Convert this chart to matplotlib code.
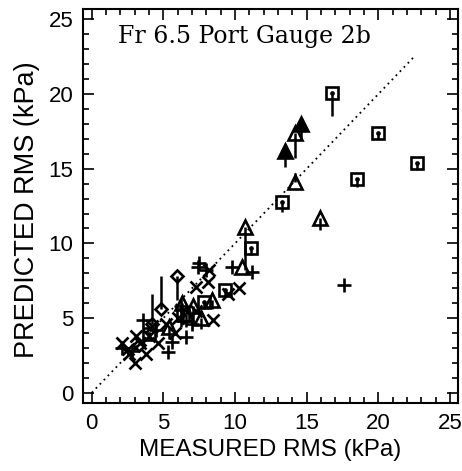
import matplotlib
matplotlib.use("Agg")
import matplotlib.pyplot as plt
import numpy as np
from matplotlib.ticker import MultipleLocator

# measured, predicted, end of the vertical bar for each point
sq_x = [16.8, 20.0, 22.7, 18.5, 13.3, 11.1, 9.3, 7.8, 6.4, 4.0]
sq_y = [20.1, 17.4, 15.4, 14.3, 12.8, 9.7, 6.9, 6.1, 5.2, 3.9]
sq_e = [18.5, 17.0, 14.9, 13.8, 12.1, 9.2, 6.5, 5.6, 4.6, 3.6]

tri_x = [14.2, 14.2, 15.9, 10.7, 10.5, 8.4, 7.1, 6.6, 7.6, 5.4, 6.3]
tri_y = [17.4, 14.1, 11.7, 11.1, 8.4, 6.2, 5.8, 5.3, 5.0, 4.4, 6.0]
tri_e = [15.7, 14.7, 10.9, 8.2, 8.4, 5.6, 4.6, 4.4, 4.3, 3.6, 4.8]

ftri_x = [13.5, 14.6]
ftri_y = [16.2, 18.0]
ftri_e = [15.1, 16.9]

plus_x = [17.6, 11.2, 9.8, 7.5, 7.4, 8.0, 6.6, 5.3, 3.6, 2.1, 6.2, 7.0, 4.5, 5.6, 2.8]
plus_y = [7.2, 8.1, 8.4, 8.7, 8.4, 8.2, 3.7, 2.7, 4.9, 3.0, 5.8, 4.6, 4.2, 3.4, 2.8]
plus_e = [7.2, 8.1, 8.4, 8.7, 8.4, 8.2, 3.7, 2.7, 4.9, 3.0, 4.4, 4.6, 4.2, 3.4, 2.8]

x_x = [10.3, 8.2, 7.3, 8.1, 8.45, 3.0, 2.1, 2.6, 3.4, 4.0, 4.6, 5.2, 2.5, 3.8, 5.8, 6.0, 4.2, 7.3, 3.1, 9.5]
x_y = [7.0, 8.25, 7.1, 7.4, 4.9, 2.0, 3.35, 2.6, 3.3, 3.8, 3.3, 4.6, 2.9, 2.6, 4.0, 5.0, 4.5, 5.5, 3.8, 6.6]

dia_x = [5.96, 4.8, 4.2, 3.3]
dia_y = [7.84, 5.6, 4.6, 3.2]
dia_e = [6.2, 7.8, 6.6, 3.2]

plt.rcParams['font.family'] = ['Liberation Sans', 'DejaVu Sans']

fig = plt.figure(figsize=(4.62, 4.71), dpi=100)
ax = fig.add_axes([0.18, 0.144, 0.811, 0.837])

ax.plot([0, 22.5], [0, 22.5], linestyle=(0, (1, 2.2)), color='black', lw=1.3)

def stems(xs, ys, es):
    for x, y, e in zip(xs, ys, es):
        if abs(y - e) > 0.01:
            ax.plot([x, x], [y, e], color='black', lw=1.8, solid_capstyle='butt')

stems(sq_x, sq_y, sq_e)
stems(tri_x, tri_y, tri_e)
stems(ftri_x, ftri_y, ftri_e)
stems(plus_x, plus_y, plus_e)
stems(dia_x, dia_y, dia_e)

kw = dict(linestyle='none', color='black', markeredgewidth=1.9)
ax.plot(sq_x, sq_y, marker='s', markersize=8.5, markerfacecolor='none', **kw)
ax.plot(sq_x, sq_y, marker='.', markersize=3, **kw)
ax.plot(tri_x, tri_y, marker='^', markersize=9.5, markerfacecolor='none', **kw)
ax.plot(ftri_x, ftri_y, marker='^', markersize=9.5, markerfacecolor='black', **kw)
ax.plot(plus_x, plus_y, marker='+', markersize=10, **kw)
ax.plot(x_x, x_y, marker='x', markersize=8, **kw)
ax.plot(dia_x, dia_y, marker='D', markersize=6.5, markerfacecolor='none', **kw)

ax.set_xlim(-0.6, 25.55)
ax.set_ylim(-0.7, 25.7)
ax.xaxis.set_major_locator(MultipleLocator(5))
ax.yaxis.set_major_locator(MultipleLocator(5))
ax.xaxis.set_minor_locator(MultipleLocator(1))
ax.yaxis.set_minor_locator(MultipleLocator(1))
ax.tick_params(which='both', direction='in', top=True, right=True, width=1.2,
               labelsize=16, pad=7)
ax.tick_params(which='major', length=8)
ax.tick_params(which='minor', length=4)
for s in ax.spines.values():
    s.set_linewidth(1.5)

ax.set_xlabel('MEASURED RMS (kPa)', fontsize=17.5, labelpad=4)
ax.set_ylabel('PREDICTED RMS (kPa)', fontsize=19.5)
ax.yaxis.set_label_coords(-0.115, 0.49)
ax.text(1.8, 23.45, 'Fr 6.5 Port Gauge 2b', fontsize=17, family='DejaVu Serif',
        ha='left', va='baseline')

fig.savefig('out.png', dpi=100)
